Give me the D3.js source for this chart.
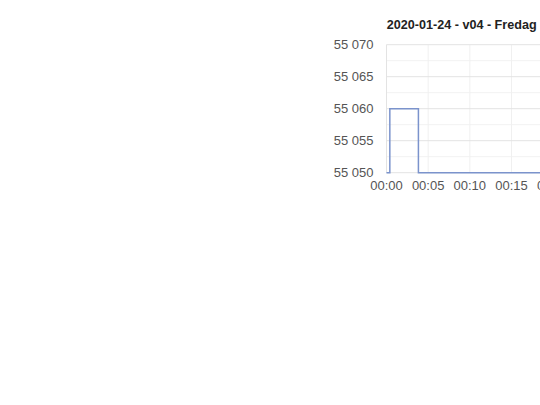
<!DOCTYPE html>
<html>
<head>
<meta charset="utf-8">
<script src="https://cdn.jsdelivr.net/npm/d3@7"></script>
<style>
  body { margin: 0; background: #fff; }
  svg { display: block; font-family: "Liberation Sans", Arial, sans-serif; }
</style>
</head>
<body>
<svg id="chart" width="540" height="405"></svg>
<script>
var title = '2020-01-24 - v04 - Fredag'

// time of day (minutes after midnight) and meter reading
var minutes = [0, 0.4, 3.83, 24]
var values = [55050, 55060, 55050, 55050]

var yTicks = [55050, 55055, 55060, 55065, 55070]
var yMinor = [55052.5, 55057.5, 55062.5, 55067.5]
var xTicks = [0, 5, 10, 15, 20]

var svg = d3.select('#chart')
var plotLeft = 386.5, plotRight = 586.5, plotTop = 44.7, plotBottom = 172.7

var day = new Date(2020, 0, 24)
function toTime(m) { return new Date(day.getTime() + m * 60000) }

var x = d3.scaleTime()
    .domain([toTime(0), toTime(24)])
    .range([plotLeft, plotRight])
var y = d3.scaleLinear()
    .domain([55050, 55070])
    .range([plotBottom, plotTop])

var data = minutes.map(function(m, i) { return { t: toTime(m), v: values[i] } })

// grid
svg.append('g').selectAll('line')
    .data(yMinor).enter().append('line')
    .attr('x1', plotLeft).attr('x2', plotRight)
    .attr('y1', function(d) { return y(d) }).attr('y2', function(d) { return y(d) })
    .attr('stroke', '#f2f2f2')
svg.append('g').selectAll('line')
    .data(xTicks).enter().append('line')
    .attr('x1', function(d) { return x(toTime(d)) }).attr('x2', function(d) { return x(toTime(d)) })
    .attr('y1', plotTop).attr('y2', plotBottom)
    .attr('stroke', '#f0f0f0')
svg.append('g').selectAll('line')
    .data(yTicks).enter().append('line')
    .attr('x1', plotLeft).attr('x2', plotRight)
    .attr('y1', function(d) { return y(d) }).attr('y2', function(d) { return y(d) })
    .attr('stroke', '#e3e3e3')
svg.append('line')
    .attr('x1', plotLeft).attr('x2', plotLeft).attr('y1', plotTop).attr('y2', plotBottom)
    .attr('stroke', '#e3e3e3')

// y labels
var fmt = function(d) { return d3.format(',')(d).replace(',', ' ') }
svg.append('g').selectAll('text')
    .data(yTicks).enter().append('text')
    .attr('x', plotLeft - 13)
    .attr('y', function(d) { return y(d) })
    .attr('dy', '0.35em')
    .attr('text-anchor', 'end')
    .attr('font-size', 13)
    .attr('fill', '#555')
    .text(fmt)

// x labels
svg.append('g').selectAll('text')
    .data(xTicks).enter().append('text')
    .attr('x', function(d) { return x(toTime(d)) })
    .attr('y', 190)
    .attr('text-anchor', 'middle')
    .attr('font-size', 13)
    .attr('fill', '#555')
    .text(function(d) { return d3.timeFormat('%H:%M')(toTime(d)) })

// series
var line = d3.line()
    .x(function(d) { return x(d.t) })
    .y(function(d) { return y(d.v) })
    .curve(d3.curveStepAfter)
svg.append('path')
    .datum(data)
    .attr('d', line)
    .attr('fill', 'none')
    .attr('stroke', '#7b93cc')
    .attr('stroke-width', 1.5)

// title
svg.append('text')
    .attr('x', 461.7)
    .attr('y', 28.8)
    .attr('text-anchor', 'middle')
    .attr('font-size', 12.6)
    .attr('font-weight', 'bold')
    .attr('fill', '#222')
    .text(title)
</script>
</body>
</html>
